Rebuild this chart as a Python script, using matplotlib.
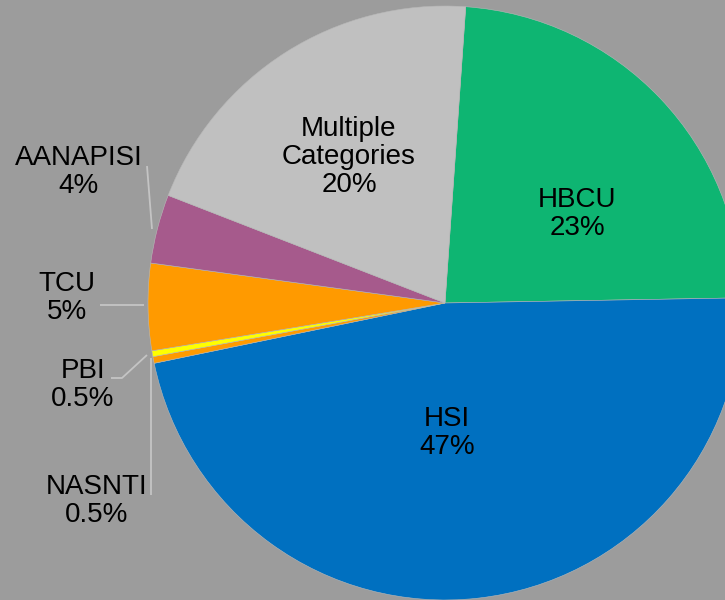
import matplotlib.pyplot as plt

# slice data, clockwise from the top (Excel order)
names = ['HBCU', 'HSI', 'NASNTI', 'PBI', 'TCU', 'AANAPISI', 'Multiple\nCategories']
shares = [23.6, 47.0, 0.36, 0.32, 4.72, 3.75, 20.2]
pct_labels = ['23%', '47%', '0.5%', '0.5%', '5%', '4%', '20%']
colors = ['#0EB572', '#0070C0', '#FF9A00', '#FFFF00', '#FF9A00', '#A65A8C', '#C0C0C0']

bg = '#9C9C9C'

fig = plt.figure(figsize=(7.25, 6), dpi=100)
fig.patch.set_facecolor(bg)
ax = fig.add_axes([0, 0, 1, 1])
ax.set_facecolor(bg)

# y axis is flipped below, so the visual clockwise order = counterclock in data
ax.pie(shares, colors=colors, startangle=-86, counterclock=True,
       center=(445, 303), radius=297,
       wedgeprops=dict(edgecolor='#B8B8B8', linewidth=0.4))

ax.set_xlim(0, 725)
ax.set_ylim(600, 0)
ax.set_aspect('equal')
ax.axis('off')

# label positions (pixel coords, text centre)
label_pos = {
    'HBCU': (577, 214),
    'HSI': (447, 433),
    'NASNTI': (97, 501),
    'PBI': (83, 385),
    'TCU': (67, 298),
    'AANAPISI': (79, 172),
    'Multiple\nCategories': (349, 157),
}

for name, pct in zip(names, pct_labels):
    x, y = label_pos[name]
    ax.text(x, y, name + '\n' + pct, ha='center', va='center',
            fontsize=20, family='Liberation Sans', color='black',
            linespacing=1.12)

# leader lines
line_kw = dict(color='#C4C4C4', linewidth=1.3, solid_capstyle='butt')
ax.plot([147, 152], [166, 229], **line_kw)                  # AANAPISI
ax.plot([100, 144], [305, 305], **line_kw)                  # TCU
ax.plot([111, 122, 147], [378, 378, 355], **line_kw)        # PBI
ax.plot([151, 151], [358, 495], **line_kw)                  # NASNTI

fig.savefig('out.png', dpi=100, facecolor=bg)
